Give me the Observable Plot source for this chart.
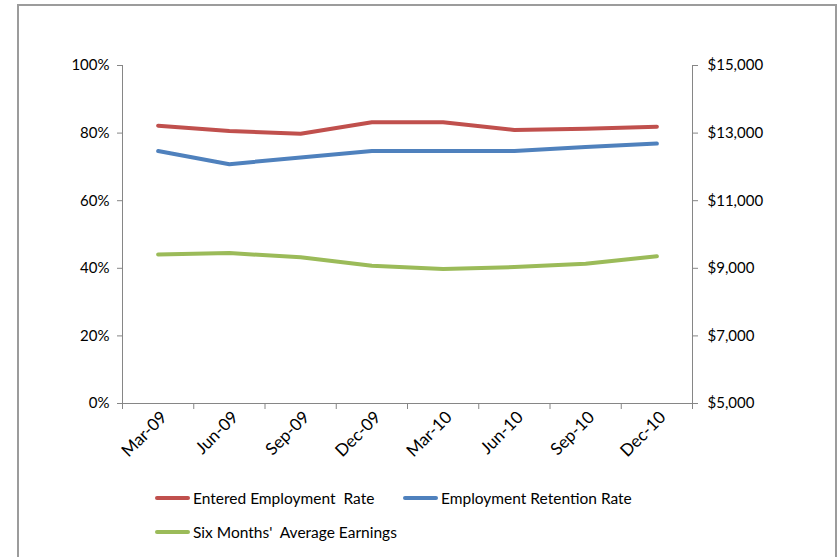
<!DOCTYPE html>
<html>
<head>
<meta charset="utf-8">
<script src="https://cdn.jsdelivr.net/npm/d3@7"></script>
<script src="https://cdn.jsdelivr.net/npm/@observablehq/plot@0.6"></script>
<style>
  body { margin: 0; background: #fff; }
  #wrap { position: relative; width: 838px; height: 557px; overflow: hidden; background: #fff; font-family: Lato, "Open Sans", sans-serif; }
  #frame { position: absolute; left: 17px; top: 4px; width: 820px; height: 620px; border: 2px solid #9c9c9c; box-sizing: border-box; }
  #chart { position: absolute; left: 0; top: 0; }
  .item { position: absolute; display: flex; align-items: center; font-size: 15.5px; color: #000; white-space: pre; }
  .sw { width: 35px; height: 4px; border-radius: 2px; margin-right: 3px; }
</style>
</head>
<body>
<div id="wrap">
  <div id="frame"></div>
  <div id="chart"></div>
  <div id="legend"></div>
</div>
<script>
// ---- data ----
const periods = ["Mar-09", "Jun-09", "Sep-09", "Dec-09", "Mar-10", "Jun-10", "Sep-10", "Dec-10"];
const enteredRate = [82.2, 80.6, 79.8, 83.2, 83.2, 80.9, 81.3, 81.9];
const retentionRate = [74.7, 70.8, 72.8, 74.7, 74.7, 74.7, 75.9, 76.9];
const avgEarnings = [9410, 9450, 9325, 9075, 8980, 9035, 9135, 9355];
const leftTicks = [0, 20, 40, 60, 80, 100];
const rightTicks = [5000, 7000, 9000, 11000, 13000, 15000];
const seriesNames = ["Entered Employment  Rate", "Employment Retention Rate", "Six Months'  Average Earnings"];
const seriesColors = ["#C0504D", "#4F81BD", "#9BBB59"];

// right axis ($5,000–$15,000) mapped onto left percent scale (0–100)
const rMin = rightTicks[0], rMax = rightTicks[rightTicks.length - 1];
const toPct = v => (v - rMin) / (rMax - rMin) * 100;
const fromPct = p => rMin + p / 100 * (rMax - rMin);

const idx = periods.map((_, i) => i);
const bounds = d3.range(-0.5, periods.length, 1);
const axisColor = "#868686";

const lineOpts = (vals, color) => ({
  x: i => i, y: i => vals[i], stroke: color, strokeWidth: 4,
  strokeLinecap: "round", strokeLinejoin: "round"
});

const chart = Plot.plot({
  width: 838,
  height: 470,
  marginLeft: 122,
  marginRight: 146,
  marginTop: 65,
  marginBottom: 67,
  style: { fontFamily: "Lato, 'Open Sans', sans-serif", fontSize: "15px", color: "#000", background: "transparent", overflow: "visible" },
  x: { type: "linear", domain: [bounds[0], bounds[bounds.length - 1]] },
  y: { domain: [leftTicks[0], leftTicks[leftTicks.length - 1]] },
  marks: [
    Plot.axisY({ anchor: "left", ticks: leftTicks, tickFormat: d => d + "%", tickSize: 5, tickPadding: 8, stroke: axisColor, fill: "#000", label: null }),
    Plot.axisY({ anchor: "right", ticks: rightTicks.map(toPct), tickFormat: p => "$" + d3.format(",")(Math.round(fromPct(p))), tickSize: 5, tickPadding: 10, stroke: axisColor, fill: "#000", label: null }),
    Plot.axisX({ ticks: bounds, tickSize: 6, tickFormat: () => "", stroke: axisColor, label: null }),
    Plot.axisX({ ticks: idx, tickSize: 0, tickPadding: 11, tickRotate: -45, dx: 6, fontSize: 17, tickFormat: i => periods[i], fill: "#000", label: null }),
    Plot.ruleX([bounds[0], bounds[bounds.length - 1]], { stroke: axisColor }),
    Plot.ruleY([leftTicks[0]], { stroke: axisColor }),
    Plot.line(idx, lineOpts(enteredRate, seriesColors[0])),
    Plot.line(idx, lineOpts(retentionRate, seriesColors[1])),
    Plot.line(idx, { ...lineOpts(avgEarnings.map(toPct), seriesColors[2]) })
  ]
});
document.getElementById("chart").appendChild(chart);

// legend
const legendPos = [[155, 498], [403, 498], [155, 532]];
const legend = document.getElementById("legend");
seriesNames.forEach((name, k) => {
  const it = document.createElement("div");
  it.className = "item";
  it.style.left = legendPos[k][0] + "px";
  it.style.top = (legendPos[k][1] - 10) + "px";
  it.style.height = "20px";
  const sw = document.createElement("div");
  sw.className = "sw";
  sw.style.background = seriesColors[k];
  const tx = document.createElement("span");
  tx.textContent = name;
  it.appendChild(sw);
  it.appendChild(tx);
  legend.appendChild(it);
});
</script>
</body>
</html>
